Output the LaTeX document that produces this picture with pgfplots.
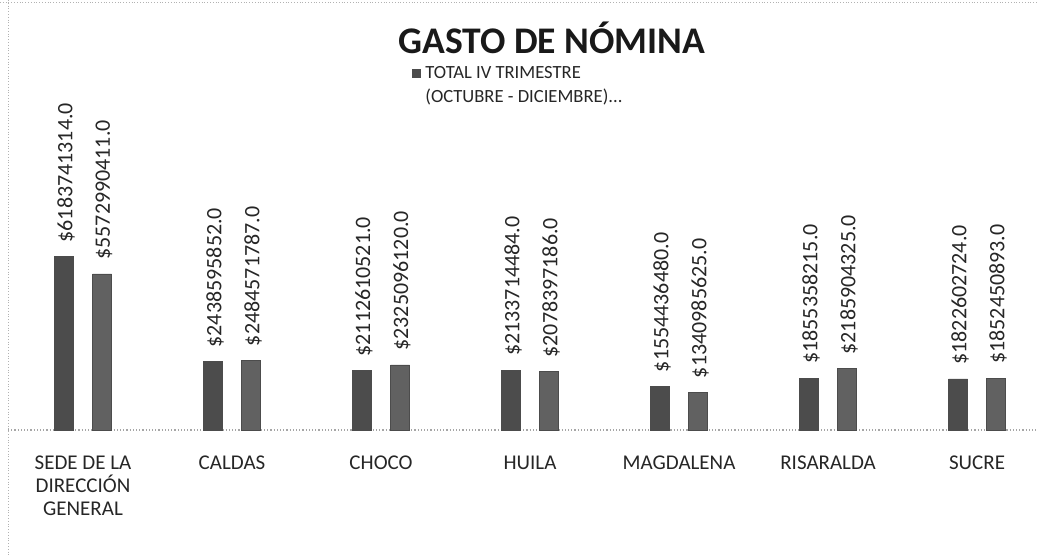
\documentclass[border=0pt]{standalone}
\usepackage{pgfplots}
\pgfplotsset{compat=1.18}
\usepackage{fontspec}
\setmainfont{Carlito}

\definecolor{barA}{gray}{0.30}
\definecolor{barB}{gray}{0.38}

\begin{document}
\begin{tikzpicture}
% page: 1038 x 557 px at 0.5pt per px
\useasboundingbox (0,0) rectangle (519pt,-278.5pt);
\draw[gray!60, densely dotted] (0,-1pt) -- (519pt,-1pt);
\draw[gray!60, densely dotted] (4pt,0) -- (4pt,-278.5pt);

\begin{axis}[
    at={(4pt,-215pt)}, anchor=south west,
    scale only axis,
    width=515pt, height=210pt,
    ybar=9.5pt,
    bar width=9.5pt,
    xmin=-0.5034, xmax=6.409,
    ymin=0, ymax=15e9,
    axis y line=none,
    axis x line*=bottom,
    x axis line style={gray!70, densely dotted, line width=0.6pt, -},
    xtick={0,1,2,3,4,5,6},
    xticklabels={SEDE DE LA\\DIRECCIÓN\\GENERAL, CALDAS, CHOCO, HUILA, MAGDALENA, RISARALDA, SUCRE},
    xticklabel style={align=center, font=\fontsize{10.5}{11.5}\selectfont, text=black!85, yshift=-9.5pt},
    major tick length=0pt,
    point meta=explicit symbolic,
    nodes near coords,
    nodes near coords style={rotate=90, anchor=west, inner sep=0pt,
        font=\fontsize{11}{12}\selectfont, text=black!85},
    every node near coord/.append style={xshift=7pt, yshift=-1pt},
    clip=false,
]
\addplot[fill=barA, draw=black!70] coordinates {
    (0,6183741314) [\$6183741314.0]
    (1,2438595852) [\$2438595852.0]
    (2,2112610521) [\$2112610521.0]
    (3,2133714484) [\$2133714484.0]
    (4,1554436480) [\$1554436480.0]
    (5,1855358215) [\$1855358215.0]
    (6,1822602724) [\$1822602724.0]
};
\addplot[fill=barB, draw=black!70] coordinates {
    (0,5572990411) [\$5572990411.0]
    (1,2484571787) [\$2484571787.0]
    (2,2325096120) [\$2325096120.0]
    (3,2078397186) [\$2078397186.0]
    (4,1340985625) [\$1340985625.0]
    (5,2185904325) [\$2185904325.0]
    (6,1852450893) [\$1852450893.0]
};
\end{axis}

\node[font=\bfseries\fontsize{18.8}{20}\selectfont, text=black!90] at (276pt,-19pt) {GASTO DE NÓMINA};
\fill[barA] (206pt,-34.5pt) rectangle (210.5pt,-39pt);
\node[anchor=north west, align=left, inner sep=0pt, font=\fontsize{9.3}{12}\selectfont, text=black!85]
    at (212.5pt,-33pt) {TOTAL IV TRIMESTRE\\(OCTUBRE - DICIEMBRE)...};
\end{tikzpicture}
\end{document}
